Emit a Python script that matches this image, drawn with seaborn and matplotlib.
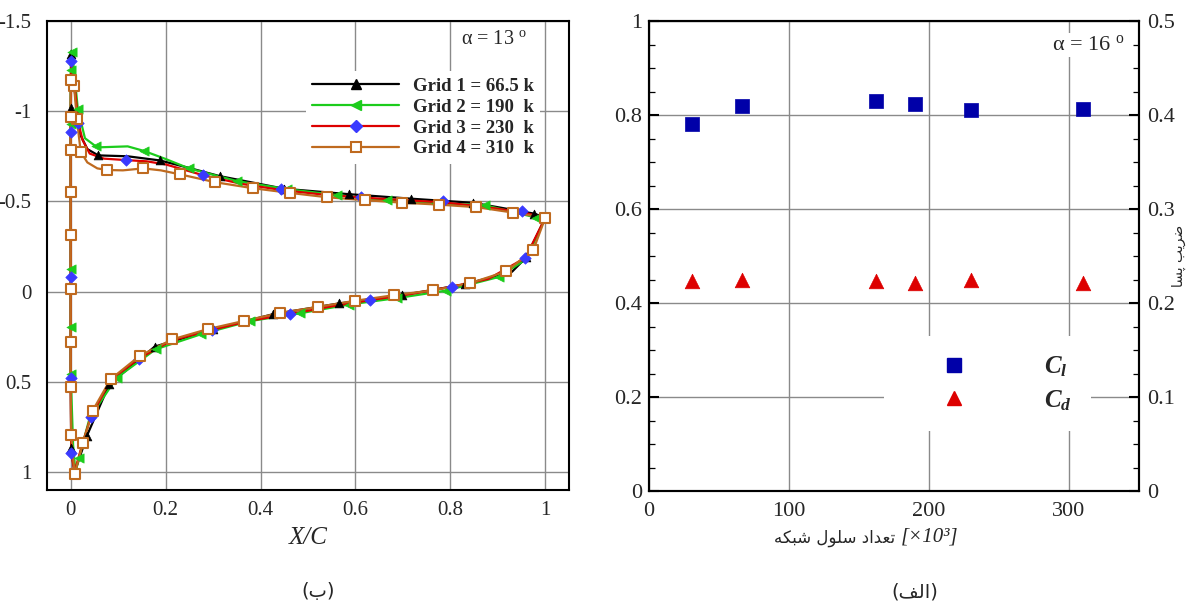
import matplotlib
matplotlib.use("Agg")
import matplotlib.pyplot as plt
from matplotlib.lines import Line2D
from matplotlib.ticker import MultipleLocator, FormatStrFormatter
import seaborn as sns

# ---------------- data: pressure coefficient around the airfoil (alpha = 13 deg) ----------------
# Grid 1 (66.5 k cells)
g1_line_x = [1.000, 0.977, 0.848, 0.717, 0.586, 0.450, 0.314, 0.250, 0.188, 0.120, 0.058, 0.035, 0.020, 0.008, 0.001,
             0.000, 0.000, 0.000, 0.000, 0.001, 0.008, 0.034, 0.081, 0.177, 0.300, 0.427, 0.565, 0.698, 0.830, 0.930, 0.960, 1.000]
g1_line_cp = [-0.409, -0.432, -0.492, -0.515, -0.540, -0.570, -0.640, -0.685, -0.727, -0.750, -0.755, -0.790, -0.870, -1.120, -1.315,
              -1.020, -0.500, 0.000, 0.500, 0.867, 1.005, 0.800, 0.515, 0.305, 0.210, 0.125, 0.066, 0.020, -0.040, -0.110, -0.190, -0.409]
g1_mark_x = [0.001, 0.000, 0.058, 0.188, 0.314, 0.450, 0.586, 0.717, 0.848, 0.977,
             0.001, 0.034, 0.081, 0.177, 0.300, 0.427, 0.565, 0.698, 0.830, 0.960]
g1_mark_cp = [-1.315, -1.020, -0.755, -0.727, -0.640, -0.570, -0.540, -0.515, -0.492, -0.432,
              0.867, 0.800, 0.515, 0.305, 0.210, 0.125, 0.066, 0.020, -0.040, -0.190]

# Grid 2 (190 k cells)
g2_line_x = [1.000, 0.981, 0.874, 0.770, 0.667, 0.561, 0.456, 0.351, 0.249, 0.200, 0.154, 0.120, 0.063, 0.053, 0.030, 0.015,
             0.006, 0.001, 0.000, 0.000, 0.000, 0.000, 0.000, 0.000, 0.005, 0.010, 0.017, 0.040, 0.097, 0.179, 0.275,
             0.377, 0.484, 0.586, 0.688, 0.790, 0.902, 0.960, 1.000]
g2_line_cp = [-0.409, -0.410, -0.478, -0.490, -0.505, -0.535, -0.568, -0.612, -0.683, -0.735, -0.780, -0.805, -0.800, -0.805,
              -0.850, -1.011, -1.250, -1.335, -1.230, -0.928, -0.500, -0.123, 0.195, 0.459, 0.850, 1.000, 0.923, 0.700,
              0.477, 0.320, 0.236, 0.164, 0.120, 0.072, 0.036, -0.005, -0.081, -0.180, -0.409]
g2_mark_x = [0.002, 0.000, 0.015, 0.000, 0.053, 0.154, 0.249, 0.351, 0.456, 0.561, 0.667, 0.770, 0.874, 0.981,
             0.000, 0.000, 0.000, 0.017, 0.097, 0.179, 0.275, 0.377, 0.484, 0.586, 0.688, 0.790, 0.902]
g2_mark_cp = [-1.330, -1.230, -1.011, -0.928, -0.805, -0.781, -0.683, -0.612, -0.568, -0.535, -0.505, -0.490, -0.478, -0.410,
              -0.123, 0.195, 0.459, 0.923, 0.477, 0.320, 0.236, 0.164, 0.120, 0.072, 0.036, -0.005, -0.081]

# Grid 3 (230 k cells)
g3_line_x = [1.000, 0.951, 0.870, 0.784, 0.700, 0.611, 0.530, 0.444, 0.360, 0.279, 0.200, 0.160, 0.116, 0.070, 0.040, 0.025,
             0.016, 0.008, 0.001, 0.000, 0.000, 0.000, 0.000, 0.001, 0.008, 0.025, 0.042, 0.084, 0.144, 0.214, 0.298,
             0.380, 0.463, 0.550, 0.630, 0.720, 0.804, 0.880, 0.958, 1.000]
g3_line_cp = [-0.409, -0.440, -0.470, -0.495, -0.507, -0.522, -0.538, -0.563, -0.597, -0.645, -0.705, -0.722, -0.729, -0.737,
              -0.765, -0.840, -0.937, -1.150, -1.276, -0.882, -0.500, -0.081, 0.480, 0.895, 1.000, 0.840, 0.698, 0.490,
              0.370, 0.270, 0.212, 0.160, 0.124, 0.082, 0.048, 0.012, -0.028, -0.070, -0.187, -0.409]
g3_mark_x = [0.001, 0.016, 0.000, 0.116, 0.279, 0.444, 0.611, 0.784, 0.951,
             0.958, 0.804, 0.630, 0.463, 0.298, 0.144, 0.042, 0.001, 0.000, 0.000]
g3_mark_cp = [-1.276, -0.937, -0.882, -0.729, -0.648, -0.568, -0.527, -0.500, -0.444,
              -0.187, -0.028, 0.048, 0.124, 0.212, 0.375, 0.698, 0.895, 0.480, -0.081]

# Grid 4 (310 k cells)
g4_line_x = [1.000, 0.932, 0.855, 0.776, 0.698, 0.620, 0.540, 0.462, 0.384, 0.305, 0.230, 0.190, 0.153, 0.110, 0.076, 0.056,
             0.035, 0.021, 0.013, 0.007, 0.000, 0.000, 0.000, 0.000, 0.000, 0.000, 0.000, 0.000, 0.001, 0.008, 0.026,
             0.046, 0.084, 0.145, 0.214, 0.289, 0.366, 0.442, 0.521, 0.599, 0.681, 0.764, 0.841, 0.918, 0.975, 1.000]
g4_line_cp = [-0.409, -0.438, -0.468, -0.482, -0.493, -0.507, -0.523, -0.547, -0.573, -0.606, -0.650, -0.672, -0.683, -0.672,
              -0.674, -0.683, -0.716, -0.775, -0.956, -1.140, -1.173, -0.970, -0.785, -0.554, -0.315, -0.017, 0.278, 0.530,
              0.797, 1.011, 0.840, 0.661, 0.486, 0.357, 0.265, 0.208, 0.162, 0.118, 0.085, 0.051, 0.020, -0.007, -0.046,
              -0.112, -0.232, -0.409]
g4_mark_x = [1.000, 0.932, 0.855, 0.776, 0.698, 0.620, 0.540, 0.462, 0.384, 0.305, 0.230, 0.153, 0.076, 0.021, 0.013, 0.007,
             0.000, 0.000, 0.000, 0.000, 0.000, 0.000, 0.000, 0.000, 0.001, 0.008, 0.026, 0.046, 0.084, 0.145, 0.214,
             0.289, 0.366, 0.442, 0.521, 0.599, 0.681, 0.764, 0.841, 0.918, 0.975]
g4_mark_cp = [-0.409, -0.438, -0.468, -0.482, -0.493, -0.507, -0.523, -0.547, -0.573, -0.606, -0.650, -0.683, -0.674, -0.775,
              -0.956, -1.140, -1.173, -0.970, -0.785, -0.554, -0.315, -0.017, 0.278, 0.530, 0.797, 1.011, 0.840, 0.661,
              0.486, 0.357, 0.265, 0.208, 0.162, 0.118, 0.085, 0.051, 0.020, -0.007, -0.046, -0.112, -0.232]

grid_labels = ["Grid 1 = 66.5 k", "Grid 2 = 190  k", "Grid 3 = 230  k", "Grid 4 = 310  k"]

# ---------------- data: lift / drag versus grid size (alpha = 16 deg) ----------------
cells_k = [31, 66.5, 162, 190, 230, 310]
cl_vals = [0.780, 0.819, 0.829, 0.824, 0.810, 0.812]
cd_vals = [0.2235, 0.224, 0.2235, 0.2218, 0.2245, 0.221]

# ---------------- style ----------------
sns.set_theme(style="white")
plt.rcParams["font.family"] = ["Liberation Serif", "DejaVu Sans"]
plt.rcParams["mathtext.fontset"] = "custom"
plt.rcParams["mathtext.rm"] = "Liberation Serif"
plt.rcParams["mathtext.it"] = "Liberation Serif:italic"
plt.rcParams["mathtext.bf"] = "Liberation Serif:bold"
plt.rcParams["mathtext.bfit"] = "Liberation Serif:italic:bold"
plt.rcParams["axes.unicode_minus"] = False

C_BLACK = "#000000"
C_GREEN = "#1ccc1c"
C_RED = "#dd0000"
C_BLUE = "#3a3aff"
C_BROWN = "#bf6a1f"
C_NAVY = "#0000a8"
GRID_C = "#8a8a8a"
FA_FONT = ["DejaVu Sans"]

fig = plt.figure(figsize=(11.88, 6.10), dpi=100)
W, H = 1188.0, 610.0
ax1 = fig.add_axes([47 / W, 1 - 490 / H, (569 - 47) / W, (490 - 21) / H])
ax2 = fig.add_axes([649 / W, 1 - 491 / H, (1139 - 649) / W, (491 - 21) / H])


def style_axes(ax, size):
    for sp in ax.spines.values():
        sp.set_visible(True)
        sp.set_color("black")
        sp.set_linewidth(1.5)
    ax.tick_params(which="both", direction="in", color="black", labelsize=size)
    ax.tick_params(which="major", length=7, width=1.5)
    ax.tick_params(which="minor", length=4, width=0.9)
    ax.grid(True, which="major", color=GRID_C, lw=1.0)
    ax.set_axisbelow(True)


# ---------------- left panel: Cp distribution ----------------
style_axes(ax1, 15)
ax1.tick_params(axis="x", pad=8)
ax1.tick_params(axis="y", pad=11)
lines = [(g1_line_x, g1_line_cp, C_BLACK), (g2_line_x, g2_line_cp, C_GREEN),
         (g3_line_x, g3_line_cp, C_RED), (g4_line_x, g4_line_cp, C_BROWN)]
for lx, ly, c in lines:
    sns.lineplot(x=lx, y=ly, sort=False, estimator=None, color=c, lw=1.6, ax=ax1, zorder=2)

sns.scatterplot(x=g1_mark_x, y=g1_mark_cp, marker="^", s=40, color=C_BLACK, edgecolor=C_BLACK, linewidth=0.5, ax=ax1, zorder=3)
sns.scatterplot(x=g2_mark_x, y=g2_mark_cp, marker="<", s=44, color=C_GREEN, edgecolor=C_GREEN, linewidth=0.5, ax=ax1, zorder=3)
sns.scatterplot(x=g3_mark_x, y=g3_mark_cp, marker="D", s=34, color=C_BLUE, edgecolor=C_BLUE, linewidth=0.5, ax=ax1, zorder=4)
sns.scatterplot(x=g4_mark_x, y=g4_mark_cp, marker="s", s=52, color="white", edgecolor=C_BROWN, linewidth=1.5, ax=ax1, zorder=5)

ax1.set_xlim(-0.05, 1.05)
ax1.set_ylim(1.1, -1.5)
ax1.xaxis.set_major_locator(MultipleLocator(0.2))
ax1.xaxis.set_minor_locator(MultipleLocator(0.05))
ax1.yaxis.set_major_locator(MultipleLocator(0.5))
ax1.yaxis.set_minor_locator(MultipleLocator(0.125))
ax1.xaxis.set_major_formatter(FormatStrFormatter("%g"))
ax1.yaxis.set_major_formatter(FormatStrFormatter("%g"))
ax1.set_xlabel("X/C", fontsize=18, fontstyle="italic", labelpad=5)
ax1.set_ylabel("")

handles = [
    Line2D([], [], color=C_BLACK, lw=1.6, marker="^", ms=6.5, mfc=C_BLACK, mec=C_BLACK),
    Line2D([], [], color=C_GREEN, lw=1.6, marker="<", ms=6.5, mfc=C_GREEN, mec=C_GREEN),
    Line2D([], [], color=C_RED, lw=1.6, marker="D", ms=5.8, mfc=C_BLUE, mec=C_BLUE),
    Line2D([], [], color=C_BROWN, lw=1.6, marker="s", ms=7, mfc="white", mec=C_BROWN, mew=1.5),
]
leg1 = ax1.legend(handles, grid_labels, loc="upper left", bbox_to_anchor=(0.496, 0.893), borderaxespad=0,
                  frameon=True, facecolor="white", edgecolor="none", framealpha=1, fancybox=False,
                  handlelength=4.6, handletextpad=0.75, labelspacing=0.2, borderpad=0.35,
                  prop={"family": "Liberation Serif", "weight": "bold", "size": 13.5})
ax1.text(0.9195, 0.9595, r"α = 13 $^{\mathrm{o}}$", transform=ax1.transAxes, ha="right", va="center",
         fontsize=14.5, zorder=6)

# ---------------- right panel: Cl and Cd versus grid size ----------------
style_axes(ax2, 16)
ax2.tick_params(axis="x", pad=8)
ax2.tick_params(axis="y", pad=5, right=False)
sns.scatterplot(x=cells_k, y=cl_vals, marker="s", s=95, color=C_NAVY, edgecolor=C_NAVY, linewidth=0.5, ax=ax2, zorder=3)
ax2.set_xlim(0, 350)
ax2.set_ylim(0, 1)
ax2.xaxis.set_major_locator(MultipleLocator(100))
ax2.xaxis.set_minor_locator(MultipleLocator(25))
ax2.yaxis.set_major_locator(MultipleLocator(0.2))
ax2.yaxis.set_minor_locator(MultipleLocator(0.05))
ax2.xaxis.set_major_formatter(FormatStrFormatter("%g"))
ax2.yaxis.set_major_formatter(FormatStrFormatter("%g"))
ax2.set_ylabel("")
ax2.set_xlabel("")

# Persian axis texts, written in shaped presentation forms in display order
fa_xlabel = "\uFEEA\uFEDC\uFE92\uFEB7 \uFEDD\uFEEE\uFEE0\uFEB3 \uFEA9\uFE8D\uFEAA\uFECC\uFE97"
ax2.text((895 - 649) / 490, -0.100, fa_xlabel, transform=ax2.transAxes, ha="right", va="center",
         fontsize=12, family=FA_FONT)
ax2.text((901 - 649) / 490, -0.098, "[×10³]", transform=ax2.transAxes, ha="left", va="center",
         fontsize=15, fontstyle="italic")

ax2r = ax2.twinx()
sns.scatterplot(x=cells_k, y=cd_vals, marker="^", s=110, color=C_RED, edgecolor=C_RED, linewidth=0.5, ax=ax2r, zorder=3)
ax2r.set_ylim(0, 0.5)
ax2r.yaxis.set_major_locator(MultipleLocator(0.1))
ax2r.yaxis.set_minor_locator(MultipleLocator(0.025))
ax2r.yaxis.set_major_formatter(FormatStrFormatter("%g"))
ax2r.tick_params(which="both", direction="in", color="black", labelsize=16, right=True, left=False, pad=6)
ax2r.tick_params(which="major", length=7, width=1.5)
ax2r.tick_params(which="minor", length=4, width=0.9)
for sp in ax2r.spines.values():
    sp.set_linewidth(1.5)
    sp.set_color("black")
ax2r.grid(False)
fa_ylabel = "\uFE8E\uFEB4\uFB58 \uFE90\uFEF3\uFEAE\uFEBF"
ax2r.set_ylabel(fa_ylabel, fontsize=10, family=FA_FONT, rotation=90)
ax2r.yaxis.set_label_coords((1172 - 649) / 490, 0.5)

coef_handles = [
    Line2D([], [], ls="none", marker="s", ms=9.5, mfc=C_NAVY, mec=C_NAVY),
    Line2D([], [], ls="none", marker="^", ms=10.5, mfc=C_RED, mec=C_RED),
]
leg2 = ax2r.legend(coef_handles, [r"$\mathbfit{C_l}$", r"$\mathbfit{C_d}$"], loc="upper left",
                   bbox_to_anchor=(0.4796, 0.330), borderaxespad=0, frameon=True, facecolor="white",
                   edgecolor="none", framealpha=1, fancybox=False, handlelength=4.1, handletextpad=1.55,
                   labelspacing=0.35, borderpad=0.75, prop={"size": 18})
ax2r.text(0.971, 0.949, r"α = 16 $^{\mathrm{o}}$", transform=ax2.transAxes, ha="right", va="center",
          fontsize=16, zorder=6, bbox=dict(facecolor="white", edgecolor="none", pad=1.5))

# panel captions
fig.text(318 / W, 1 - 592 / H, "(\uFE8F)", family=FA_FONT, fontsize=14, ha="center", va="center")
fig.text(915 / W, 1 - 592 / H, "(\uFED2\uFEDF\uFE8D)", family=FA_FONT, fontsize=14, ha="center", va="center")

fig.savefig("out.png", dpi=100)
